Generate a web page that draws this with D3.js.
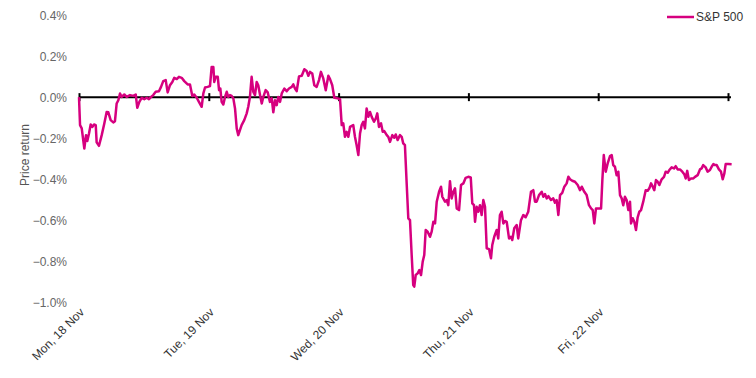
<!DOCTYPE html>
<html>
<head>
<meta charset="utf-8">
<script src="https://cdn.jsdelivr.net/npm/d3@7"></script>
<style>
  body { margin: 0; background: #fff; }
  svg text { font-family: "Liberation Sans", Arial, sans-serif; }
</style>
</head>
<body>
<svg id="chart" width="756" height="378"></svg>
<script>
// day labels for the x axis (trading days, day 5 = end of Friday)
var dayLabels = ['Mon, 18 Nov', 'Tue, 19 Nov', 'Wed, 20 Nov', 'Thu, 21 Nov', 'Fri, 22 Nov', ''];
var yTicks = [0.4, 0.2, 0.0, -0.2, -0.4, -0.6, -0.8, -1.0];
var seriesName = 'S&P 500';

// time in days since Mon open, price return in %
var times = [
  0.000, 0.008, 0.021, 0.041, 0.054, 0.064, 0.077, 0.090, 0.102, 0.116, 0.129, 0.136, 0.154, 0.175, 0.195, 0.213,
  0.226, 0.244, 0.264, 0.277, 0.290, 0.303, 0.316, 0.329, 0.349, 0.367, 0.393, 0.418, 0.437, 0.449, 0.465, 0.483,
  0.503, 0.522, 0.539, 0.555, 0.572, 0.591, 0.616, 0.632, 0.649, 0.668, 0.683, 0.701, 0.719, 0.734, 0.753, 0.770,
  0.791, 0.811, 0.837, 0.855, 0.873, 0.888, 0.907, 0.924, 0.945, 0.958, 0.971, 0.991, 1.009, 1.022, 1.035, 1.042,
  1.053, 1.069, 1.079, 1.089, 1.099, 1.112, 1.125, 1.138, 1.150, 1.163, 1.176, 1.189, 1.202, 1.215, 1.227, 1.240,
  1.253, 1.273, 1.292, 1.304, 1.317, 1.330, 1.343, 1.356, 1.369, 1.381, 1.394, 1.408, 1.420, 1.438, 1.454, 1.471,
  1.485, 1.497, 1.510, 1.523, 1.535, 1.549, 1.562, 1.582, 1.600, 1.618, 1.639, 1.651, 1.664, 1.677, 1.695, 1.716,
  1.736, 1.754, 1.767, 1.780, 1.797, 1.813, 1.831, 1.849, 1.864, 1.882, 1.901, 1.921, 1.934, 1.951, 1.967, 1.993,
  2.011, 2.024, 2.036, 2.049, 2.062, 2.075, 2.088, 2.113, 2.126, 2.139, 2.152, 2.165, 2.178, 2.190, 2.203, 2.216,
  2.229, 2.242, 2.255, 2.273, 2.286, 2.298, 2.311, 2.327, 2.340, 2.352, 2.371, 2.383, 2.396, 2.414, 2.429, 2.440,
  2.455, 2.473, 2.486, 2.498, 2.511, 2.525, 2.537, 2.550, 2.563, 2.575, 2.583, 2.594, 2.609, 2.622, 2.635, 2.648,
  2.660, 2.671, 2.686, 2.704, 2.717, 2.730, 2.743, 2.756, 2.774, 2.789, 2.799, 2.820, 2.833, 2.845, 2.858, 2.871,
  2.884, 2.897, 2.910, 2.928, 2.943, 2.961, 2.979, 2.999, 3.018, 3.030, 3.043, 3.051, 3.064, 3.076, 3.089, 3.102,
  3.115, 3.128, 3.141, 3.159, 3.174, 3.184, 3.199, 3.218, 3.230, 3.243, 3.256, 3.269, 3.282, 3.295, 3.313, 3.328,
  3.338, 3.353, 3.372, 3.384, 3.405, 3.423, 3.441, 3.461, 3.482, 3.500, 3.513, 3.526, 3.544, 3.565, 3.577, 3.590,
  3.603, 3.616, 3.636, 3.654, 3.667, 3.680, 3.693, 3.706, 3.723, 3.739, 3.757, 3.770, 3.783, 3.800, 3.821, 3.842,
  3.860, 3.873, 3.893, 3.911, 3.929, 3.945, 3.958, 3.970, 3.983, 4.001, 4.022, 4.032, 4.043, 4.058, 4.073, 4.091,
  4.104, 4.116, 4.129, 4.142, 4.155, 4.168, 4.181, 4.193, 4.206, 4.219, 4.232, 4.245, 4.253, 4.266, 4.278, 4.291,
  4.304, 4.317, 4.330, 4.347, 4.366, 4.381, 4.394, 4.407, 4.420, 4.432, 4.445, 4.458, 4.471, 4.489, 4.507, 4.520,
  4.535, 4.548, 4.566, 4.584, 4.597, 4.612, 4.630, 4.648, 4.663, 4.674, 4.686, 4.699, 4.715, 4.733, 4.746, 4.766,
  4.784, 4.797, 4.809, 4.828, 4.843, 4.861, 4.874, 4.887, 4.900, 4.913, 4.930, 4.946, 4.959, 4.972, 4.982, 5.002,
  5.028
];
var returns = [
  0.000, -0.136, -0.152, -0.250, -0.185, -0.214, -0.177, -0.133, -0.145, -0.133, -0.136, -0.220, -0.237, -0.185, -0.128, -0.072,
  -0.074, -0.112, -0.123, -0.117, -0.031, -0.015, 0.018, 0.001, 0.013, 0.001, 0.010, 0.006, 0.013, -0.052, -0.023, -0.003,
  -0.010, -0.003, -0.010, 0.001, 0.010, 0.026, 0.029, 0.050, 0.078, 0.083, 0.023, 0.058, 0.074, 0.094, 0.088, 0.099,
  0.094, 0.078, 0.062, 0.062, 0.006, 0.013, -0.003, -0.023, -0.047, 0.018, 0.047, 0.050, 0.054, 0.147, 0.147, 0.074,
  0.099, 0.099, 0.034, 0.042, -0.023, -0.036, 0.001, 0.026, 0.001, 0.010, 0.006, -0.006, -0.055, -0.152, -0.185, -0.161,
  -0.136, -0.112, -0.079, -0.047, 0.001, 0.099, 0.026, 0.010, 0.074, 0.058, 0.013, -0.031, 0.001, 0.034, 0.023, -0.023,
  -0.006, -0.074, -0.015, -0.039, 0.001, -0.023, 0.018, 0.042, 0.029, 0.042, 0.050, 0.062, 0.042, 0.029, 0.101, 0.104,
  0.136, 0.127, 0.104, 0.123, 0.115, 0.058, 0.050, 0.083, 0.123, 0.091, 0.034, 0.104, 0.088, 0.058, -0.003, -0.006,
  -0.010, -0.136, -0.128, -0.193, -0.169, -0.193, -0.145, -0.136, -0.193, -0.234, -0.282, -0.177, -0.136, -0.120, -0.152, -0.055,
  -0.096, -0.072, -0.096, -0.120, -0.104, -0.079, -0.145, -0.128, -0.169, -0.165, -0.185, -0.193, -0.218, -0.185, -0.198, -0.182,
  -0.209, -0.185, -0.193, -0.225, -0.234, -0.428, -0.590, -0.599, -0.769, -0.915, -0.923, -0.866, -0.858, -0.842, -0.866, -0.801,
  -0.769, -0.647, -0.655, -0.680, -0.655, -0.607, -0.615, -0.509, -0.461, -0.436, -0.485, -0.509, -0.501, -0.526, -0.409, -0.493,
  -0.461, -0.444, -0.542, -0.550, -0.428, -0.420, -0.393, -0.388, -0.391, -0.517, -0.526, -0.607, -0.534, -0.558, -0.526, -0.574,
  -0.501, -0.534, -0.736, -0.740, -0.785, -0.720, -0.680, -0.647, -0.688, -0.574, -0.558, -0.615, -0.603, -0.607, -0.688, -0.680,
  -0.696, -0.639, -0.623, -0.688, -0.599, -0.574, -0.585, -0.558, -0.461, -0.453, -0.509, -0.509, -0.477, -0.461, -0.485, -0.472,
  -0.493, -0.482, -0.501, -0.493, -0.514, -0.501, -0.574, -0.477, -0.466, -0.436, -0.420, -0.388, -0.400, -0.407, -0.412, -0.428,
  -0.453, -0.436, -0.461, -0.477, -0.526, -0.542, -0.550, -0.615, -0.542, -0.542, -0.542, -0.404, -0.282, -0.363, -0.323, -0.287,
  -0.282, -0.331, -0.339, -0.380, -0.363, -0.477, -0.493, -0.526, -0.485, -0.501, -0.550, -0.509, -0.615, -0.590, -0.607, -0.647,
  -0.585, -0.558, -0.550, -0.509, -0.453, -0.456, -0.444, -0.420, -0.436, -0.453, -0.404, -0.412, -0.428, -0.400, -0.388, -0.363,
  -0.368, -0.355, -0.342, -0.347, -0.336, -0.352, -0.352, -0.363, -0.375, -0.396, -0.359, -0.404, -0.396, -0.396, -0.388, -0.380,
  -0.352, -0.347, -0.331, -0.342, -0.363, -0.355, -0.339, -0.326, -0.331, -0.331, -0.352, -0.363, -0.400, -0.371, -0.326, -0.326,
  -0.327
];

var lineColor = '#d6007f';
var svg = d3.select('#chart');

var margin = { top: 15, right: 28, bottom: 75, left: 79 };
var width = 756, height = 378;

var x = d3.scaleLinear().domain([0, 5]).range([margin.left, 728]);
var y = d3.scaleLinear().domain([-1.0, 0.4]).range([302.5, 15]);

var data = times.map(function(t, i) { return { t: t, v: returns[i] }; });

// y labels, no axis line
var yAxis = svg.append('g')
	.attr('transform', 'translate(67,0)')
	.call(d3.axisLeft(y).tickValues(yTicks).tickSize(0).tickPadding(0)
		.tickFormat(function(d) { return d3.format('.1f')(d) + '%'; }));
yAxis.select('.domain').remove();
yAxis.selectAll('text')
	.attr('font-size', 12)
	.attr('fill', '#666')
	.attr('dy', '0.36em')
	.style('font-family', '"Liberation Sans", Arial, sans-serif');

svg.append('text')
	.attr('transform', 'translate(29,155) rotate(-90)')
	.attr('text-anchor', 'middle')
	.attr('font-size', 12)
	.attr('fill', '#555')
	.text('Price return');

// zero line with day ticks
var xAxis = svg.append('g')
	.attr('transform', 'translate(0,' + (y(0) + 4) + ')')
	.call(d3.axisBottom(x).tickValues(d3.range(dayLabels.length)).tickSize(8).tickSizeOuter(0).tickFormat(''));
xAxis.select('.domain').remove();
xAxis.selectAll('.tick line')
	.attr('y1', -8).attr('y2', 0)
	.attr('stroke', '#000').attr('stroke-width', 2);

svg.append('line')
	.attr('x1', x(0)).attr('x2', x(5) + 3)
	.attr('y1', y(0)).attr('y2', y(0))
	.attr('stroke', '#000')
	.attr('stroke-width', 2);

// rotated day labels along the bottom
svg.append('g').selectAll('text')
	.data(dayLabels.filter(function(d) { return d !== ''; }))
	.enter().append('text')
	.attr('transform', function(d, i) { return 'translate(' + (x(i) + 6) + ',313) rotate(-45)'; })
	.attr('text-anchor', 'end')
	.attr('font-size', 12)
	.attr('fill', '#333')
	.text(function(d) { return d; });

// the series
var line = d3.line()
	.x(function(d) { return x(d.t); })
	.y(function(d) { return y(d.v); });

svg.append('path')
	.datum(data)
	.attr('d', line)
	.attr('fill', 'none')
	.attr('stroke', lineColor)
	.attr('stroke-width', 2.5)
	.attr('stroke-linejoin', 'round');

// legend
var legend = svg.append('g').attr('transform', 'translate(667,17)');
legend.append('line')
	.attr('x1', 0).attr('x2', 27)
	.attr('stroke', lineColor).attr('stroke-width', 2.5);
legend.append('text')
	.attr('x', 29).attr('y', 4)
	.attr('font-size', 12)
	.attr('fill', '#333')
	.text(seriesName);
</script>
</body>
</html>
